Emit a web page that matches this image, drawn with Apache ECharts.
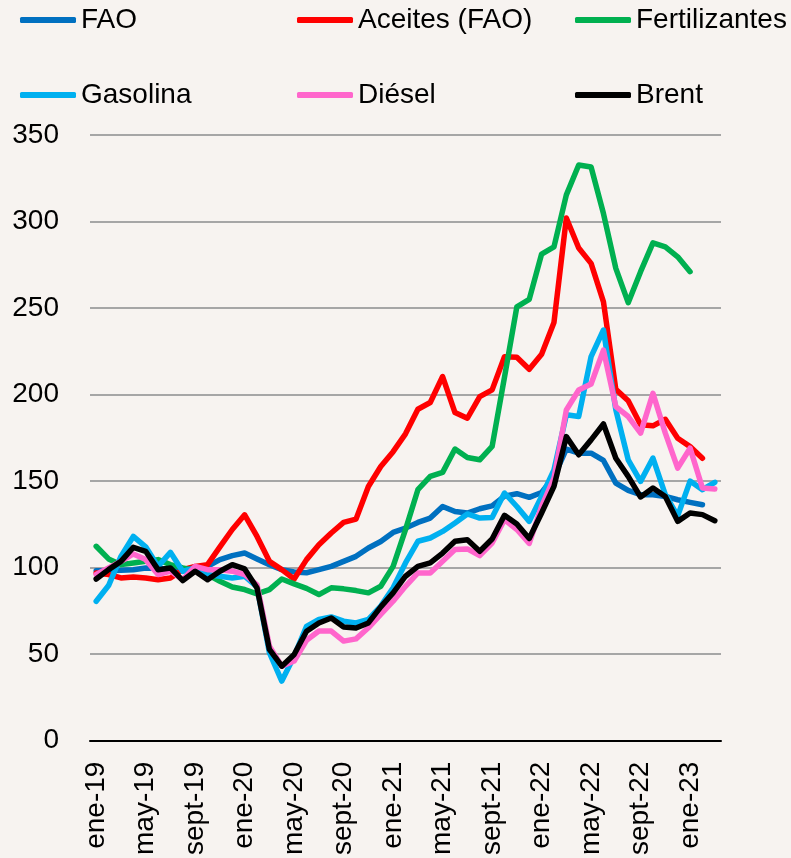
<!DOCTYPE html>
<html>
<head>
<meta charset="utf-8">
<script src="https://cdn.jsdelivr.net/npm/echarts@6/dist/echarts.min.js"></script>
<style>
html,body{margin:0;padding:0;background:#F7F3F0;}
#chart{width:791px;height:858px;}
</style>
</head>
<body>
<div id="chart"></div>
<script>
const monthNames = ['ene','feb','mar','abr','may','jun','jul','ago','sept','oct','nov','dic'];
const years = ['19','20','21','22','23'];
const categories = [];
for (const y of years) { for (const m of monthNames) { categories.push(m + '-' + y); } }
categories.length = 51; // ene-19 ... mar-23

const fao = [98.2,98.2,98.4,98.8,99.8,99.5,99,99,99.8,100.7,104.6,106.9,108.4,105,101.7,98.8,97.5,97,98.8,100.7,103.6,106.5,111.3,115.1,120.3,122.8,126.1,128.6,135.3,132.4,131.5,134,135.7,141.3,142.7,140.6,143.4,152.6,168.4,166.1,166.1,161.9,148.8,144.6,142.1,142.1,141.1,139.2,137.7,136.3,null];
const aceites = [96.9,96,94,94.6,94,93,94,98.8,100.7,101.7,112,122,130.5,118,103.6,98.8,93.4,104.6,113.2,120,126.1,128,146.9,158.4,167,177.3,191.5,195.4,210.4,189.6,186.3,198.8,202.7,221.8,221.6,214.6,223.3,241.7,302,284.7,275.8,253.6,203,196.4,182.5,181.9,185.7,174.7,169.9,163.2,null];
const fertilizantes = [112.3,105,101.7,102.6,103.6,104.6,101.7,99.8,98.2,95.9,92.1,88.8,87.3,84.8,87.3,93.4,90.6,88,84.4,88.3,87.7,86.7,85.4,89.2,100.7,121.9,145,152.7,155,168.5,163.6,162.3,170,210,250.7,255,281.2,285.4,315.4,332.7,331.5,304.6,272.9,253.1,271,287.7,285.4,279.6,271,null,null];
const gasolina = [80.5,89.6,106.5,118,112,100.7,108.8,97.8,100,96,95,94,95,88.8,50.8,34.4,48.8,66,70,71.5,69,68,70,77.7,88.3,102.7,115.2,117.1,120.9,125.8,131,128.6,129,143.1,135.3,126.7,141.1,156.5,188.3,187.3,221.9,237.3,191.1,162.3,149.8,163.3,142.1,129.9,150,145,149.3];
const diesel = [96,99.8,103.6,107.9,104.6,96,98,93,100.7,98.8,98.8,97.9,96,90,54.6,43,46,58,63.3,63.3,57.5,58.8,65.2,72.9,80.6,89.2,96.9,96.9,103.6,110.4,110.8,106.9,114.2,127.7,122,114,135.4,151.7,191.1,202.6,206.1,225.7,193,187.3,177.7,200.7,177.7,157.5,169,146,145.4];
const brent = [93.4,98.8,103.6,111.7,109.4,98.8,99.8,92.5,97.9,93,97.9,101.7,99.2,88.2,52.7,43,49.8,63.2,68,70.9,65.7,65.1,68,77.3,85.4,95,100.7,102.7,108.4,115.2,116.1,109.4,116.5,130.2,125.2,116.8,131.5,146.9,175.7,165.2,173.8,183,163.2,152.7,140.8,146,141.1,126.7,131.5,130.6,127.1];

const seriesNames = ['FAO','Aceites (FAO)','Fertilizantes','Gasolina','Diésel','Brent'];
const seriesData = [fao, aceites, fertilizantes, gasolina, diesel, brent];
const colors = ['#0070C0','#FF0000','#00B050','#00B0F0','#FF66CC','#000000'];

const legendPos = [[20,5],[297,5],[575,5],[20,80],[297,80],[575,80]];
const FONT = 'Liberation Sans';

const chart = echarts.init(document.getElementById('chart'));
chart.setOption({
  backgroundColor: '#F7F3F0',
  animation: false,
  grid: { left: 90, right: 70, top: 135, bottom: 116, containLabel: false },
  legend: seriesNames.map((n, i) => ({
    data: [n],
    left: legendPos[i][0],
    top: legendPos[i][1],
    padding: 0,
    icon: 'roundRect',
    itemWidth: 56,
    itemHeight: 6,
    textStyle: { fontFamily: FONT, fontSize: 28, color: '#000', lineHeight: 30 }
  })),
  xAxis: {
    type: 'category',
    data: categories,
    boundaryGap: true,
    axisLine: { show: true, lineStyle: { color: '#000', width: 2 } },
    axisTick: { show: false },
    axisLabel: { interval: 3, rotate: 90, margin: 21, fontFamily: FONT, fontSize: 28, color: '#000' },
    splitLine: { show: false }
  },
  yAxis: {
    type: 'value',
    min: 0, max: 350, interval: 50,
    axisLine: { show: false },
    axisTick: { show: false },
    axisLabel: { margin: 31, fontFamily: FONT, fontSize: 28, color: '#000' },
    splitLine: { show: true, lineStyle: { color: '#A6A6A6', width: 2 } }
  },
  series: seriesNames.map((n, i) => ({
    name: n,
    type: 'line',
    data: seriesData[i],
    symbol: 'none',
    smooth: false,
    connectNulls: false,
    color: colors[i],
    lineStyle: { width: 5.5, color: colors[i], cap: 'round', join: 'round' }
  }))
});
</script>
</body>
</html>
